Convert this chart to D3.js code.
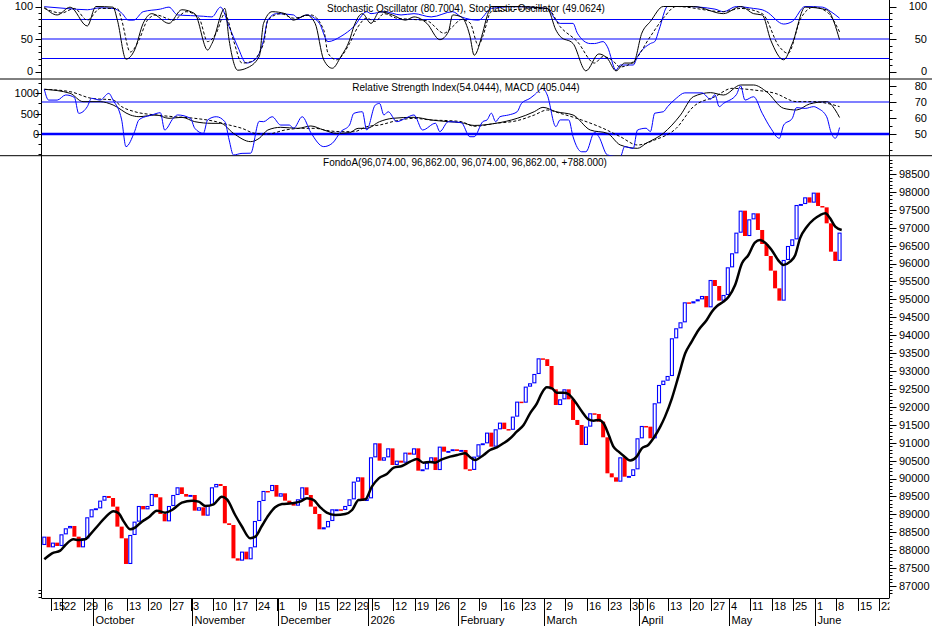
<!DOCTYPE html>
<html><head><meta charset="utf-8">
<script src="https://cdn.jsdelivr.net/npm/d3@7"></script>
<style>
body{margin:0;background:#fff}
svg{display:block}
text{font-family:"Liberation Sans",Arial,sans-serif;font-size:11px;fill:#000}
text.title{font-size:10px}
</style>
</head><body>
<svg id="chart" width="932" height="626"></svg>
<script>
// ---------------- DATA ----------------
const titleStoch = "Stochastic Oscillator (80.7004), Stochastic Oscillator (49.0624)";
const titleRsi = "Relative Strength Index(54.0444), MACD (405.044)";
const titleMain = "FondoA(96,074.00, 96,862.00, 96,074.00, 96,862.00, +788.000)";

const startDate = "2025-09-15";
const axisEndDate = "2026-06-26";
const holidays = ["2025-12-08","2025-12-25","2026-01-01","2026-04-03","2026-05-01"];
const monthNames = ["January","February","March","April","May","June","July","August","September","October","November","December"];

const firstOpen = 88145;
const closes = [
88377,88080,88210,88117,88442,88610,88675,88377,88080,88331,
88917,89140,89168,89382,89512,89456,89215,88657,88331,87615,
88424,88796,89233,89140,89233,89568,89475,89010,88805,89233,
89540,89754,89568,89494,89540,89103,89196,88963,89261,89754,
89847,89791,88750,88703,87773,87708,87959,87745,88080,88814,
89373,89652,89650,89819,89494,89587,89382,89308,89242,89419,
89754,89540,89215,89010,88582,88638,88814,89140,89140,89121,
89233,89419,89912,90033,89373,89447,90591,90982,90498,90591,
90842,90377,90498,90442,90722,90666,90842,90219,90256,90442,
90591,90237,90889,90749,90768,90815,90768,90796,90257,90240,
90610,90955,90982,91280,90889,91373,91559,91380,91360,91727,
92145,92117,92564,92657,92917,93354,93330,93140,92489,92052,
92210,92489,92210,91634,91494,90936,91448,91820,91801,91587,
91150,90145,90033,89912,90591,90050,90071,90257,91122,91466,
91447,91122,92099,92610,92731,92861,93913,94192,94359,94917,
94889,94945,95001,95094,94778,95540,95373,94964,95122,95894,
96285,96861,97475,96768,97233,97401,96936,96545,96210,95801,
95308,94964,96099,96489,96675,97633,97661,97847,97699,97978,
97605,97568,97122,96331,96074,96862
];

// moving average : bar index, value
const maIdx = [0,1.8,3.7,4.9,6.8,8,9.5,10.7,12.6,14.2,16.1,17.3,18.5,20,21.2,22.7,24.3,26.2,28.1,29.7,32,34.4,35.9,37.5,39.4,41.3,42.5,44.4,45.9,47.9,49.1,50.6,52.2,53.7,55.3,57.6,59.5,61.1,62.6,64.2,65.7,67.7,70,71.6,73.1,74.7,76.2,77.8,79.7,81.3,83.2,85.1,86.7,88.2,89.7,90.9,92.5,94.4,96.4,97.9,99,100.2,102.2,103.7,105.3,106.8,108.4,109.9,111.5,113,114.6,115.7,116.9,118.1,119.2,120.8,121.9,123.5,125.1,126.6,127.8,129,130.1,131.3,132.4,133.6,134.8,136.3,137.8,139,140.5,141.7,143.3,144.4,146,147.5,149.1,150.6,152.2,154.1,155.3,156.5,158,159.2,160.7,162.3,163.8,165.3,166.5,167.7,169.2,170.8,171.9,173.5,174.7,175.8,177.4,179,180.5,181.7,182.8,184,185.5];
const maVal = [87745,87912,87987,88145,88303,88284,88303,88442,88703,88917,89084,89029,88796,88582,88638,88796,88917,89103,89047,89121,89326,89382,89354,89233,89280,89494,89419,88982,88675,88331,88377,88675,88982,89196,89289,89308,89354,89447,89401,89196,89047,88982,89010,89121,89401,89419,89773,90005,90126,90303,90349,90470,90545,90442,90461,90442,90535,90610,90666,90703,90600,90517,90657,90796,90871,90982,91122,91308,91494,91820,92099,92378,92545,92517,92396,92396,92359,92145,91866,91652,91615,91634,91541,91215,90889,90750,90629,90500,90610,90843,90936,91122,91447,91727,92238,92843,93494,93820,94145,94424,94657,94815,94936,95075,95401,96006,96238,96582,96657,96582,96378,96080,95959,96052,96238,96703,97029,97233,97354,97401,97261,97029,96936];

// stochastic oscillator (long) - blue
const stLongIdx = [0,5,10,13,16,18,19.6,20.8,23,27,29,31,34,37,39,41,43,45,47,49,51,52,54,58,59,61,64,66,69,72,75,76,79,83,86,90,95,97,101,104,109,117,119,120,123,124,127,128,130,131,133,134,137,138,141,142,143,145,149,156,158,161,165,167,168,172,174,177,181,183,185];
const stLongVal = [99.7,97,95,98,97,90,79,79,92,96,99,87,86,85,84,99,69,38,13,18,48,79,89,87,82,87,74,46,54,69,92,89,92,87,89,84,92,84,79,97,99.7,97,79,74,74,59,43,43,46,38,2,10,10,23,43,46,64,100,100,96,92,100,97,95,92,73,77,100,99,92,82];
// stochastic oscillator (short) %K - black solid
const stKIdx = [0,3,6,10,12,16,17,19,21,23,25,29,32,35,38,39,42,43,45,47,50,51,53,56,58,61,63,65,67,69,71,72,74,76,78,81,84,86,89,92,94,95,97,99,100,102,103,104,109,117,119,120,123,126,129,131,133,135,137,139,141,144,151,158,162,165,167,169,172,174,177,182,185];
const stKVal = [99,87,99,70,100,99,79,19,33,74,89,74,95,89,33,43,97,48,2,5,23,74,92,89,79,87,74,18,5,23,48,69,89,74,92,87,79,84,74,49,61,87,84,55,25,60,85,100,100,97,64,54,43,1,27,20,1,13,13,59,77,100,100,89,100,89,87,48,18,43,99,95,49];
// %D - black dashed
const stDIdx = [0,4,7,10,13,17,18,20,22,24,26,30,33,36,38,40,42,44,46,48,51,52,55,58,62,65,66,68,71,73,75,77,79,82,86,89,93,95,97,99,101,102,104,117,120,124,128,130,132,134,137,141,144,147,158,162,167,171,173,176,179,182,185];
const stDVal = [97,90,97,79,97,97,79,30,48,79,87,79,92,82,46,59,89,48,13,15,43,79,89,82,87,64,28,18,43,69,82,77,89,82,80,78,59,69,80,75,40,54,92,97,69,46,13,23,18,7,15,54,82,100,92,97,89,38,28,82,99,92,61];

// MACD (left scale) solid and signal (dashed)
const macdIdx = [0,6,9,13,16,20,22,26,29,32,35,39,41,44,48,50,52,55,59,62,65,68,71,73,75,78,81,86,90,94,97,100,105,110,114,116,119,123,127,131,134,138,140,144,148,151,155,158,162,165,168,172,175,178,182,184,185];
const macdVal = [1098,1000,795,795,713,467,426,467,385,410,303,262,262,16,-188,-106,98,164,139,197,98,16,33,139,139,303,385,410,344,303,278,210,262,385,549,655,549,467,98,16,-270,-352,-229,16,467,917,1016,958,1204,1204,1040,631,590,737,795,590,405];
const sigIdx = [0,6,11,16,18,21,26,30,35,40,43,46,49,52,56,60,63,66,69,72,75,78,82,86,90,94,97,100,105,110,114,117,120,125,130,134,138,142,147,151,156,160,165,170,175,179,182,185];
const sigVal = [1098,1040,876,835,672,549,467,426,385,303,221,139,16,0,98,139,139,82,57,57,180,221,328,385,344,328,303,190,262,328,467,590,508,344,139,-66,-270,-147,139,672,917,1122,1081,1000,795,795,755,672];

// RSI (right scale) - blue
const rsiIdx = [0,1,3,5,7,8,10,11,13,15,16,18,19,21,22,24,25,27,28,30,31,34,35,37,38,40,42,43,44,46,48,50,51,53,55,57,58,60,62,65,67,69,71,72,74,75,77,78,79,80,82,84,86,88,91,92,94,97,99,100,102,103,104,105,106,108,110,111,113,114,116,117,119,120,122,123,125,126,128,129,131,134,135,137,138,140,141,142,144,145,147,149,153,155,156,157,158,161,162,163,165,167,169,171,172,174,175,177,179,180,182,183,184,185];
const rsiVal = [77.9,71.2,71.2,74.4,72.9,62.9,67.1,72.3,71.2,75.4,71.2,58.8,42.1,51.5,58.8,61.2,61.9,63.3,52.5,59.8,61.9,59.8,53.6,50.4,58.8,60.8,57.7,46.3,36.9,37.9,38,57.9,57.7,60.8,55.6,55.6,53.6,60.8,50.9,42.1,44.2,51.5,55.6,62.9,63.9,52.5,68.1,69.1,61.9,63.9,57.7,59.8,61.9,52.5,56.7,51.5,57.7,57.1,48.3,48.3,57.7,58.8,63,57.7,60.8,61.9,63.9,69.1,72.3,74.4,78.5,74.4,54.6,58.8,58.8,48.3,38.9,38.9,51,48.3,36.9,35.8,42.1,41,52.5,53.6,51.5,63,63.9,67.1,72.3,75.7,75.7,71.7,74.6,67.1,69.1,74.6,80,71.2,73.3,63,53.6,47.3,55.6,59.8,66.5,66,67.1,66,60.8,51.2,47.3,54.04];

const stochLevels = [80, 50, 20];
const stochTicks = [0, 50, 100];
const macdTicks = [0, 500, 1000];
const rsiTicks = [50, 60, 70, 80];
const priceTicks = d3.range(87000, 98501, 500);

// ---------------- LAYOUT ----------------
const W = 932, H = 626;
const L = 41.5, R = 889.5;
const P1 = {top: 0, bottom: 79};
const P2 = {top: 79, bottom: 155.7};
const P3 = {top: 155.7, bottom: 598};
const BLUE = "#0000ff", RED = "#ff0000";

const svg = d3.select("#chart");

// trading calendar
const parse = d3.utcParse("%Y-%m-%d"), fmt = d3.utcFormat("%Y-%m-%d");
const hol = new Set(holidays);
const days = [];
for (let d = parse(startDate); d <= parse(axisEndDate); d = d3.utcDay.offset(d, 1)) {
  const wd = d.getUTCDay();
  if (wd === 0 || wd === 6 || hol.has(fmt(d))) continue;
  days.push(d);
}

const x = d3.scaleLinear().domain([0, 197.2]).range([42.3, 890]);
const yS = d3.scaleLinear().domain([0, 100]).range([71.5, 6.5]);
const yM = d3.scaleLinear().domain([0, 1000]).range([134, 93.3]);
const yR = d3.scaleLinear().domain([50, 80]).range([134, 86]);
const yP = d3.scaleLinear().domain([87000, 98500]).range([586, 173.95]);

const defs = svg.append("defs");
function clip(id, y0, y1) {
  defs.append("clipPath").attr("id", id).append("rect")
    .attr("x", L).attr("y", y0).attr("width", R - L).attr("height", y1 - y0);
}
clip("c1", P1.top, P1.bottom); clip("c2", P2.top, P2.bottom); clip("c3", P3.top, P3.bottom);
clip("cx", P3.bottom, H);

// frame lines
svg.append("line").attr("x1", 0).attr("x2", W).attr("y1", P1.bottom).attr("y2", P1.bottom).attr("stroke", "#000");
svg.append("line").attr("x1", 0).attr("x2", W).attr("y1", P2.bottom).attr("y2", P2.bottom).attr("stroke", "#000");
svg.append("line").attr("x1", L).attr("x2", L).attr("y1", 0).attr("y2", P3.bottom).attr("stroke", "#000");
svg.append("line").attr("x1", R).attr("x2", R).attr("y1", 0).attr("y2", P3.bottom).attr("stroke", "#000");
svg.append("line").attr("x1", L).attr("x2", R).attr("y1", P3.bottom + 0.5).attr("y2", P3.bottom + 0.5).attr("stroke", "#000");

// ---------- axis ticks helpers ----------
function ticksRight(scale, major, minorStep, y0, y1, fmtFn, labelX, anchor) {
  const lo = scale.invert(y1), hi = scale.invert(y0);
  const a = Math.min(lo, hi), b = Math.max(lo, hi);
  const g = svg.append("g");
  for (let v = Math.ceil(a / minorStep) * minorStep; v <= b; v += minorStep) {
    const yy = Math.round(scale(v)) + 0.5;
    if (yy < y0 + 1 || yy > y1 - 1) continue;
    g.append("line").attr("x1", R).attr("x2", R + 3).attr("y1", yy).attr("y2", yy).attr("stroke", "#000");
  }
  major.forEach(v => {
    const yy = Math.round(scale(v)) + 0.5;
    g.append("line").attr("x1", R).attr("x2", R + 7).attr("y1", yy).attr("y2", yy).attr("stroke", "#000");
    g.append("text").attr("x", labelX).attr("y", scale(v)).attr("dy", "0.36em")
      .attr("text-anchor", anchor).text(fmtFn(v));
  });
}
function ticksLeft(scale, major, minorStep, y0, y1, labelX) {
  const lo = scale.invert(y1), hi = scale.invert(y0);
  const a = Math.min(lo, hi), b = Math.max(lo, hi);
  const g = svg.append("g");
  for (let v = Math.ceil(a / minorStep) * minorStep; v <= b; v += minorStep) {
    const yy = Math.round(scale(v)) + 0.5;
    if (yy < y0 + 1 || yy > y1 - 1) continue;
    g.append("line").attr("x1", L - 3).attr("x2", L).attr("y1", yy).attr("y2", yy).attr("stroke", "#000");
  }
  major.forEach(v => {
    const yy = Math.round(scale(v)) + 0.5;
    g.append("line").attr("x1", L - 6).attr("x2", L).attr("y1", yy).attr("y2", yy).attr("stroke", "#000");
    g.append("text").attr("x", labelX).attr("y", scale(v)).attr("dy", "0.36em")
      .attr("text-anchor", "end").text(v);
  });
}

ticksRight(yS, stochTicks, 10, P1.top, P1.bottom, d => d, 927, "end");
ticksLeft(yS, stochTicks, 10, P1.top, P1.bottom, 33);
ticksRight(yR, rsiTicks, 5, P2.top, P2.bottom, d => d, 927, "end");
ticksLeft(yM, macdTicks, 250, P2.top, P2.bottom, 39);
ticksRight(yP, priceTicks, 100, P3.top, P3.bottom, d => d, 899, "start");
// short left ticks of price panel (bottom end only)
[86700, 86800, 86900].forEach(v => {
  const yy = Math.round(yP(v)) + 0.5;
  svg.append("line").attr("x1", L - 3).attr("x2", L).attr("y1", yy).attr("y2", yy).attr("stroke", "#000");
});

// ---------- panel 1 : stochastics ----------
const g1 = svg.append("g").attr("clip-path", "url(#c1)");
stochLevels.forEach(v => {
  g1.append("line").attr("x1", L).attr("x2", R).attr("y1", yS(v)).attr("y2", yS(v)).attr("stroke", BLUE).attr("stroke-width", 1.2);
});
function series(g, idx, val, ys, color, dash, width) {
  const pts = idx.map((d, k) => [x(d) + 2, ys(val[k])]);
  g.append("path").attr("d", d3.line().curve(d3.curveMonotoneX)(pts))
    .attr("fill", "none").attr("stroke", color).attr("stroke-width", width || 1)
    .attr("stroke-dasharray", dash || null);
}
series(g1, stLongIdx, stLongVal, yS, BLUE);
series(g1, stDIdx, stDVal, yS, "#000", "3,2");
series(g1, stKIdx, stKVal, yS, "#000");
svg.append("text").attr("class", "title").attr("x", 466).attr("y", 12).attr("text-anchor", "middle").text(titleStoch);

// ---------- panel 2 : RSI + MACD ----------
const g2 = svg.append("g").attr("clip-path", "url(#c2)");
g2.append("line").attr("x1", L).attr("x2", R).attr("y1", yR(70)).attr("y2", yR(70)).attr("stroke", BLUE).attr("stroke-width", 1.2);
g2.append("line").attr("x1", L).attr("x2", R).attr("y1", yR(50)).attr("y2", yR(50)).attr("stroke", BLUE).attr("stroke-width", 2.6);
series(g2, sigIdx, sigVal, yM, "#000", "3,2");
series(g2, macdIdx, macdVal, yM, "#000");
series(g2, rsiIdx, rsiVal, yR, BLUE);
svg.append("text").attr("class", "title").attr("x", 466).attr("y", 91).attr("text-anchor", "middle").text(titleRsi);

// ---------- panel 3 : price bars ----------
const g3 = svg.append("g").attr("clip-path", "url(#c3)");
const bars = closes.map((c, i) => ({i, o: i === 0 ? firstOpen : closes[i - 1], c}));
g3.selectAll("rect.dn").data(bars.filter(b => b.c < b.o)).join("rect")
  .attr("x", b => x(b.i)).attr("width", 4)
  .attr("y", b => yP(b.o)).attr("height", b => Math.max(1.5, yP(b.c) - yP(b.o)))
  .attr("fill", RED);
g3.selectAll("rect.up").data(bars.filter(b => b.c >= b.o)).join("rect")
  .attr("x", b => x(b.i) + 0.5).attr("width", 3)
  .attr("y", b => yP(b.c) + 0.5).attr("height", b => Math.max(0.8, yP(b.o) - yP(b.c) - 1))
  .attr("fill", "none").attr("stroke", BLUE).attr("stroke-width", 1.1);
const maPts = maIdx.map((d, k) => [x(d) + 2, yP(maVal[k])]);
g3.append("path").attr("d", d3.line().curve(d3.curveMonotoneX)(maPts))
  .attr("fill", "none").attr("stroke", "#000").attr("stroke-width", 2.5).attr("stroke-linejoin", "round");
svg.append("text").attr("class", "title").attr("x", 465).attr("y", 166).attr("text-anchor", "middle").text(titleMain);

// ---------- date axis ----------
const gx = svg.append("g").attr("clip-path", "url(#cx)");
let prevWeek = null, prevMonth = null;
days.forEach((d, i) => {
  const wk = +d3.utcMonday.floor(d);
  const xx = x(i);
  if (xx > R) return;
  if (wk !== prevWeek) {
    let lx = Math.round(xx - 1.5) + 0.5;
    if (lx - L < 8) lx = L + 10;           // first tick pushed off the axis line
    gx.append("line").attr("x1", lx).attr("x2", lx).attr("y1", P3.bottom).attr("y2", 611).attr("stroke", "#000");
    gx.append("text").attr("x", lx + 1.5).attr("y", 610).text(d.getUTCDate());
    prevWeek = wk;
  }
  const m = d.getUTCMonth();
  if (m !== prevMonth) {
    if (prevMonth === null) {
      // month already under way at the start of the data (label runs off the left edge)
      gx.append("text").attr("x", 17.5).attr("y", 624).attr("text-anchor", "end").text(monthNames[m]);
    } else {
      const lx = Math.round(xx - 1) + 0.5;
      gx.append("line").attr("x1", lx).attr("x2", lx).attr("y1", P3.bottom).attr("y2", H).attr("stroke", "#000");
      gx.append("text").attr("x", lx + 2).attr("y", 624).text(m === 0 ? d.getUTCFullYear() : monthNames[m]);
    }
    prevMonth = m;
  }
});
</script>
</body></html>
